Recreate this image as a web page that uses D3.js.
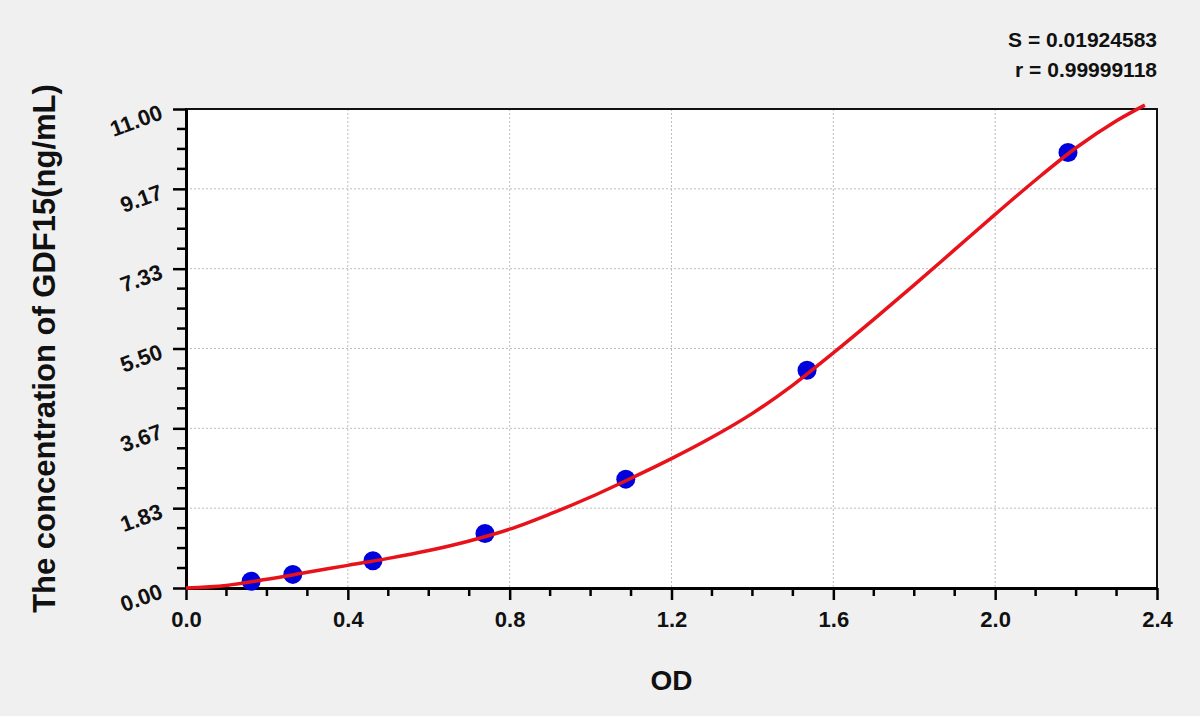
<!DOCTYPE html>
<html>
<head>
<meta charset="utf-8">
<script src="https://cdn.jsdelivr.net/npm/d3@7"></script>
<style>
  html, body { margin: 0; padding: 0; background: #f0f0f0; }
  svg { display: block; font-family: "Liberation Sans", Arial, sans-serif; }
</style>
</head>
<body>
<div id="main"></div>
<script>
// standard points (OD, concentration)
const stdOD = [0.161, 0.264, 0.462, 0.739, 1.087, 1.535, 2.180];
const stdConc = [0.156, 0.3125, 0.625, 1.25, 2.5, 5, 10];

// fitted curve
const curveOD = [0, 0.1, 0.2, 0.3, 0.4, 0.5, 0.6, 0.7, 0.8, 0.9, 1.0, 1.1, 1.2, 1.3, 1.4, 1.5, 1.6, 1.7, 1.8, 1.9, 2.0, 2.1, 2.2, 2.3, 2.37];
const curveConc = [0, 0.06, 0.20, 0.36, 0.52, 0.68, 0.86, 1.08, 1.35, 1.70, 2.09, 2.52, 2.97, 3.46, 4.01, 4.66, 5.40, 6.17, 6.96, 7.77, 8.58, 9.37, 10.11, 10.73, 11.09];

const xTicks = [0, 0.4, 0.8, 1.2, 1.6, 2.0, 2.4];
const xTickLabels = ['0.0', '0.4', '0.8', '1.2', '1.6', '2.0', '2.4'];
const yTicks = [0, 1.8333, 3.6667, 5.5, 7.3333, 9.1667, 11];
const yTickLabels = ['0.00', '1.83', '3.67', '5.50', '7.33', '9.17', '11.00'];
const statLines = ['S = 0.01924583', 'r = 0.99999118'];

const W = 1200, H = 716;
const margin = { top: 109, right: 43, bottom: 128, left: 186 };
const width = W - margin.left - margin.right;
const height = H - margin.top - margin.bottom;

const svg = d3.select('#main').append('svg')
  .attr('width', W)
  .attr('height', H);

const g = svg.append('g')
  .attr('transform', 'translate(' + margin.left + ',' + margin.top + ')');

const x = d3.scaleLinear().domain([0, 2.4]).range([0, width]);
const y = d3.scaleLinear().domain([0, 11]).range([height, 0]);

// plot background
g.append('rect')
  .attr('width', width)
  .attr('height', height)
  .attr('fill', '#fff');

// dotted grid
g.selectAll('.gx')
  .data(xTicks.slice(1, -1))
  .enter().append('line')
  .attr('x1', d => x(d)).attr('x2', d => x(d))
  .attr('y1', 0).attr('y2', height)
  .attr('stroke', '#bdbdbd').attr('stroke-width', 1)
  .attr('stroke-dasharray', '2,2');

g.selectAll('.gy')
  .data(yTicks.slice(1, -1))
  .enter().append('line')
  .attr('y1', d => y(d)).attr('y2', d => y(d))
  .attr('x1', 0).attr('x2', width)
  .attr('stroke', '#bdbdbd').attr('stroke-width', 1)
  .attr('stroke-dasharray', '2,2');

// frame
g.append('rect')
  .attr('width', width)
  .attr('height', height)
  .attr('fill', 'none')
  .attr('stroke', '#111')
  .attr('stroke-width', 2);

// minor ticks, 4 steps between majors
const xMinor = [];
for (let i = 0; i < xTicks.length - 1; i++) {
  const step = (xTicks[i + 1] - xTicks[i]) / 4;
  for (let k = 1; k < 4; k++) xMinor.push(xTicks[i] + step * k);
}
const yMinor = [];
for (let i = 0; i < yTicks.length - 1; i++) {
  const step = (yTicks[i + 1] - yTicks[i]) / 4;
  for (let k = 1; k < 4; k++) yMinor.push(yTicks[i] + step * k);
}

// x axis
const xAxis = g.append('g')
  .attr('transform', 'translate(0,' + height + ')')
  .call(d3.axisBottom(x).tickValues(xTicks).tickSize(12).tickSizeOuter(0)
    .tickFormat((d, i) => xTickLabels[i]));
xAxis.select('.domain').attr('stroke', '#000').attr('stroke-width', 3);
xAxis.selectAll('.tick line').attr('stroke', '#000').attr('stroke-width', 2.5);
xAxis.selectAll('.tick text')
  .attr('dy', null).attr('y', 39)
  .attr('font-size', 22).attr('font-weight', 'bold').attr('fill', '#111');
xAxis.selectAll('.minor')
  .data(xMinor)
  .enter().append('line')
  .attr('x1', d => x(d)).attr('x2', d => x(d))
  .attr('y1', 0).attr('y2', 8)
  .attr('stroke', '#000').attr('stroke-width', 2.5);

// y axis
const yAxis = g.append('g')
  .call(d3.axisLeft(y).tickValues(yTicks).tickSize(13).tickSizeOuter(0)
    .tickFormat((d, i) => yTickLabels[i]));
yAxis.select('.domain').attr('stroke', '#000').attr('stroke-width', 3);
yAxis.selectAll('.tick line').attr('stroke', '#000').attr('stroke-width', 2.5);
yAxis.selectAll('.tick text')
  .attr('x', null).attr('dy', null)
  .attr('text-anchor', 'end')
  .attr('transform', 'translate(-22,9) rotate(-20)')
  .attr('font-size', 22).attr('font-weight', 'bold').attr('fill', '#111');
yAxis.selectAll('.minor')
  .data(yMinor)
  .enter().append('line')
  .attr('y1', d => y(d)).attr('y2', d => y(d))
  .attr('x1', 0).attr('x2', -9)
  .attr('stroke', '#000').attr('stroke-width', 2.5);

// standard points
g.selectAll('.pt')
  .data(stdOD.map((d, i) => [d, stdConc[i]]))
  .enter().append('circle')
  .attr('cx', d => x(d[0]))
  .attr('cy', d => y(d[1]))
  .attr('r', 9.5)
  .attr('fill', '#0000dd');

// fitted curve
const line = d3.line()
  .x(d => x(d[0]))
  .y(d => y(d[1]))
  .curve(d3.curveCatmullRom);

g.append('path')
  .datum(curveOD.map((d, i) => [d, curveConc[i]]))
  .attr('d', line)
  .attr('fill', 'none')
  .attr('stroke', '#e8131a')
  .attr('stroke-width', 3.5);

// axis titles
svg.append('text')
  .attr('x', margin.left + width / 2)
  .attr('y', 690)
  .attr('text-anchor', 'middle')
  .attr('font-size', 28).attr('font-weight', 'bold').attr('fill', '#111')
  .text('OD');

svg.append('text')
  .attr('transform', 'translate(55,' + (margin.top + height / 2) + ') rotate(-90)')
  .attr('text-anchor', 'middle')
  .attr('font-size', 31).attr('font-weight', 'bold').attr('fill', '#111')
  .text('The concentration of GDF15(ng/mL)');

// fit statistics
svg.selectAll('.stat')
  .data(statLines)
  .enter().append('text')
  .attr('x', margin.left + width)
  .attr('y', (d, i) => 47 + i * 30)
  .attr('text-anchor', 'end')
  .attr('font-size', 21).attr('font-weight', 'bold').attr('fill', '#111')
  .text(d => d);
</script>
</body>
</html>
